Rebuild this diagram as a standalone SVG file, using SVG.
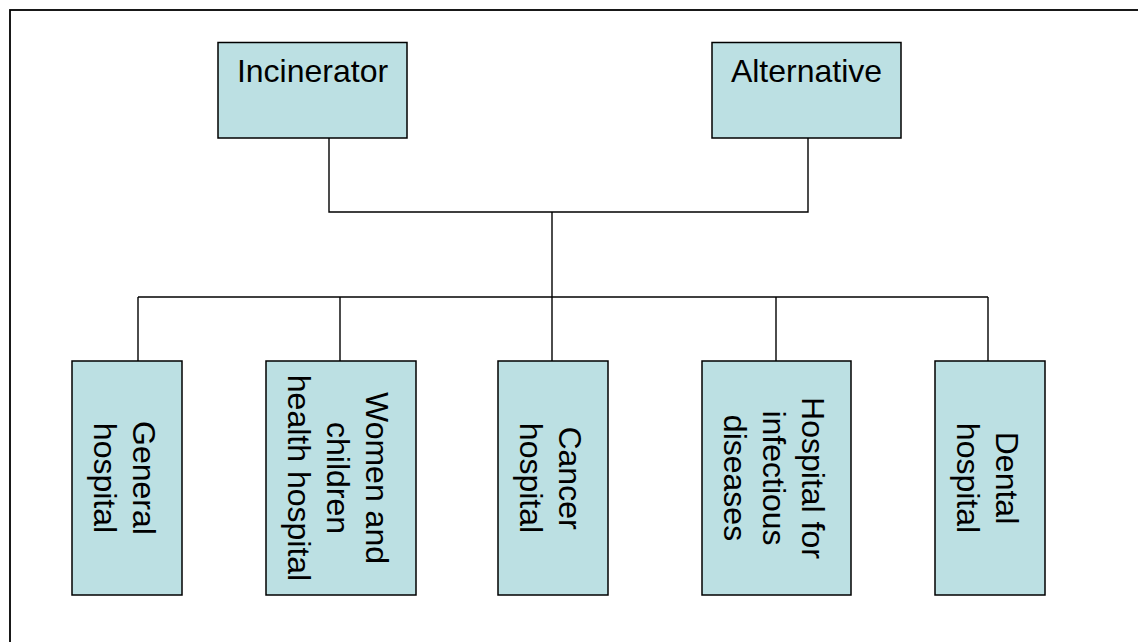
<svg xmlns="http://www.w3.org/2000/svg" width="1138" height="642" viewBox="0 0 1138 642">
<style>
.box{fill:#bce0e3;stroke:#000;stroke-width:1.5}
.lbl{font-family:"Liberation Sans",Arial,sans-serif;font-size:32px;fill:#000;text-anchor:middle}
.conn{fill:none;stroke:#000;stroke-width:1.4}
</style>
<rect x="0" y="0" width="1138" height="642" fill="#fff"/>
<rect x="10" y="10" width="1200" height="700" fill="none" stroke="#000" stroke-width="1.8"/>
<g id="connectors" class="conn">
<polyline points="329,138 329,212 808,212 808,138"/>
<line x1="552" y1="212" x2="552" y2="297"/>
<line x1="138" y1="297" x2="988" y2="297"/>
<line x1="138" y1="297" x2="138" y2="361"/>
<line x1="340" y1="297" x2="340" y2="361"/>
<line x1="552" y1="297" x2="552" y2="361"/>
<line x1="776" y1="297" x2="776" y2="361"/>
<line x1="988" y1="297" x2="988" y2="361"/>
</g>
<g id="incinerator">
<rect class="box" x="218" y="42.5" width="189" height="95.5"/>
<text class="lbl" x="312.5" y="82">Incinerator</text>
</g>
<g id="alternative">
<rect class="box" x="712" y="42.5" width="189" height="95.5"/>
<text class="lbl" x="806.5" y="82">Alternative</text>
</g>
<g id="general">
<rect class="box" x="72" y="361" width="110" height="234"/>
<text class="lbl" transform="translate(127,478) rotate(90)"><tspan x="0" y="-6">General</tspan><tspan x="0" y="33">hospital</tspan></text>
</g>
<g id="women">
<rect class="box" x="266" y="361" width="150" height="234"/>
<text class="lbl" transform="translate(341,478) rotate(90)"><tspan x="0" y="-25">Women and</tspan><tspan x="0" y="14">children</tspan><tspan x="0" y="53">health hospital</tspan></text>
</g>
<g id="cancer">
<rect class="box" x="498" y="361" width="110" height="234"/>
<text class="lbl" transform="translate(553,478) rotate(90)"><tspan x="0" y="-6">Cancer</tspan><tspan x="0" y="33">hospital</tspan></text>
</g>
<g id="infectious">
<rect class="box" x="702" y="361" width="149" height="234"/>
<text class="lbl" transform="translate(776.5,478) rotate(90)"><tspan x="0" y="-25">Hospital for</tspan><tspan x="0" y="14">infectious</tspan><tspan x="0" y="53">diseases</tspan></text>
</g>
<g id="dental">
<rect class="box" x="935" y="361" width="110" height="234"/>
<text class="lbl" transform="translate(990,478) rotate(90)"><tspan x="0" y="-6">Dental</tspan><tspan x="0" y="33">hospital</tspan></text>
</g>
</svg>
